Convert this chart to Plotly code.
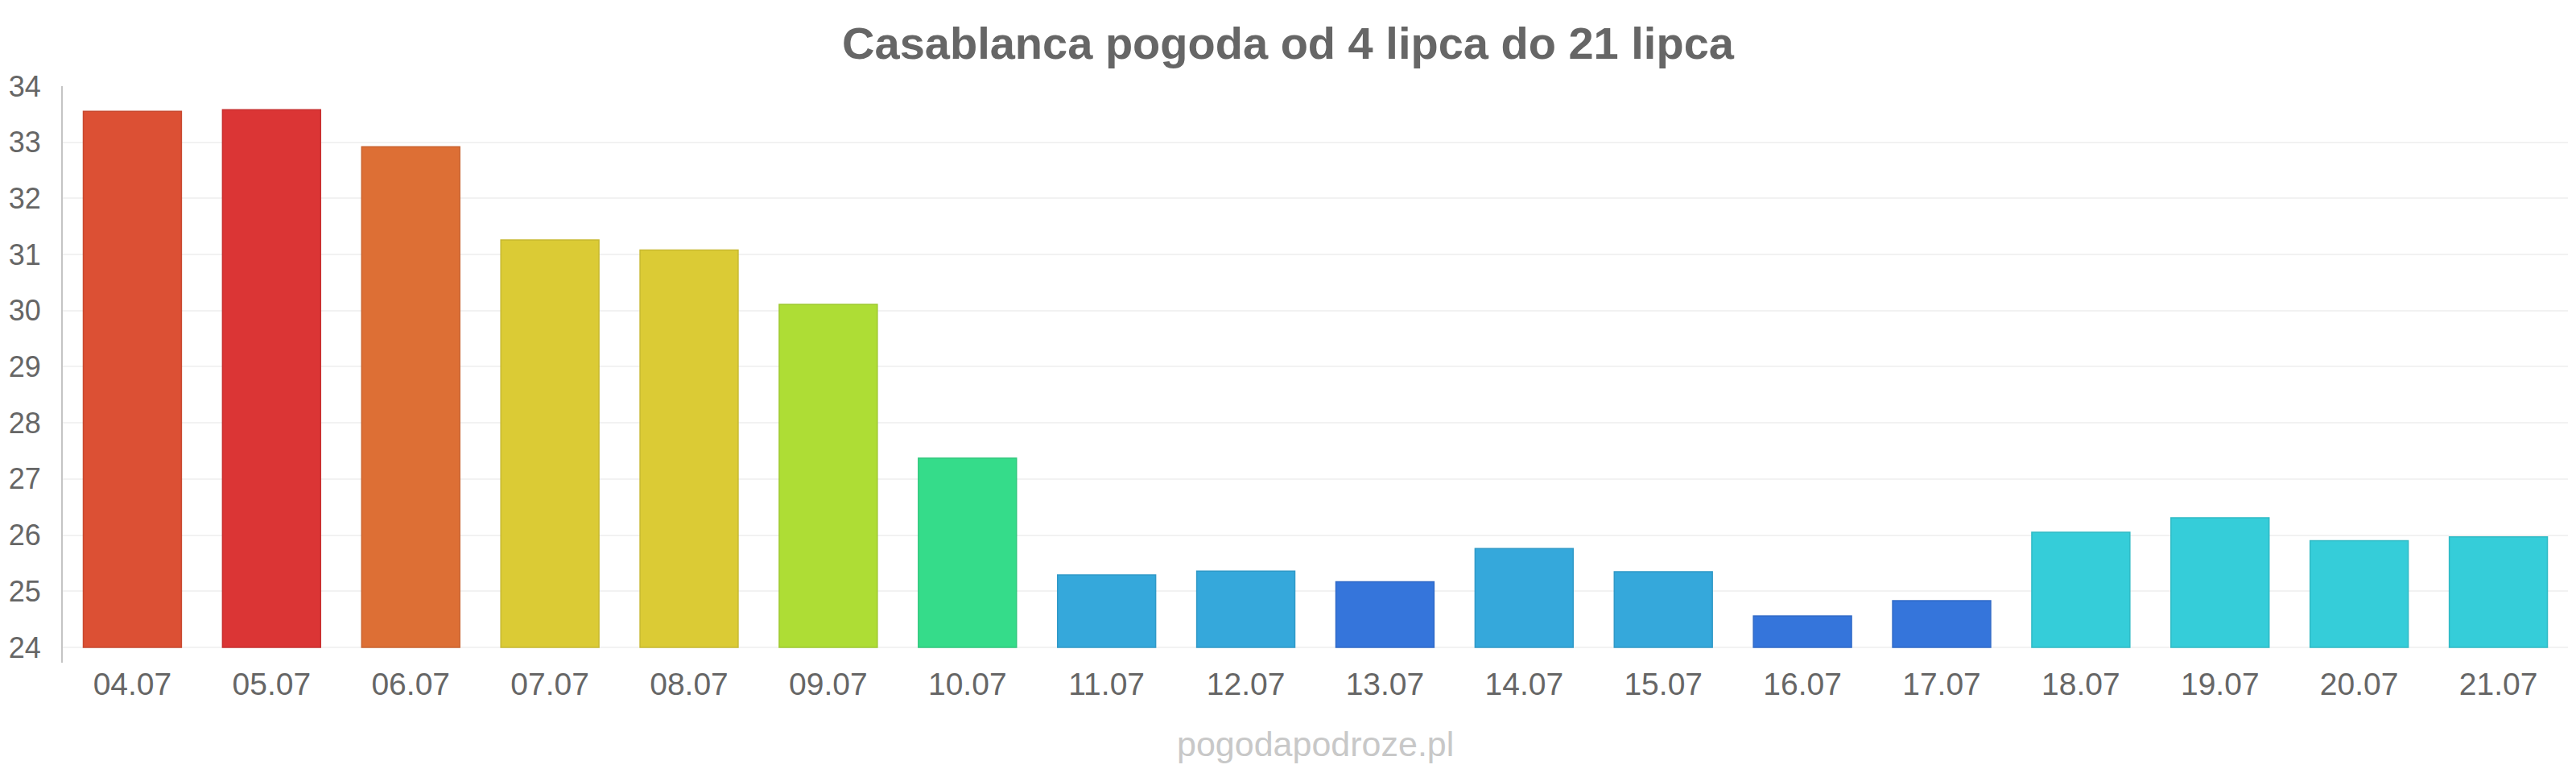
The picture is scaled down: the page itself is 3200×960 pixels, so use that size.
import plotly.graph_objects as go

dates = ["04.07", "05.07", "06.07", "07.07", "08.07", "09.07", "10.07", "11.07", "12.07",
         "13.07", "14.07", "15.07", "16.07", "17.07", "18.07", "19.07", "20.07", "21.07"]
temps = [33.55, 33.58, 32.92, 31.26, 31.08, 30.11, 27.37, 25.29, 25.36,
         25.17, 25.76, 25.35, 24.56, 24.83, 26.05, 26.31, 25.90, 25.97]
colors = ["#dc5034", "#db3535", "#dd6f35", "#dbcb35", "#dbcb35", "#aedd35", "#35dc8a", "#35a8db", "#35a8db",
          "#3575db", "#35a8db", "#35a8db", "#3575db", "#3575db", "#35cdd9", "#35cdd9", "#35cdd9", "#35cdd9"]
edge = ["#c8482f", "#c73030", "#c96430", "#c7b930", "#c7b930", "#9ec930", "#30c87d", "#3099c7",
        "#3099c7", "#306ac7", "#3099c7", "#3099c7", "#306ac7", "#306ac7", "#30bac5", "#30bac5",
        "#30bac5", "#30bac5"]
base_value = 24
y_ticks = list(range(24, 35))

fig = go.Figure(go.Bar(
    x=dates,
    y=[t - base_value for t in temps],
    base=base_value,
    marker=dict(color=colors, line=dict(color=edge, width=1.5)),
    width=0.705,
    customdata=temps,
    hovertemplate="%{x}: %{customdata}<extra></extra>",
))

fig.update_layout(
    width=3200, height=960,
    margin=dict(l=78, r=10, t=107, b=137),
    paper_bgcolor="white", plot_bgcolor="white",
    showlegend=False,
    title=dict(text="<b>Casablanca pogoda od 4 lipca do 21 lipca</b>", x=0.5, xanchor="center",
               y=1 - 53 / 960, yanchor="middle",
               font=dict(family="Liberation Sans, Arial, sans-serif", size=56, color="#666666")),
    font=dict(family="Liberation Sans, Arial, sans-serif", color="#666666"),
    xaxis=dict(showgrid=False, showline=False, zeroline=False, ticks="",
               tickfont=dict(size=39, color="#666666"), ticklabelstandoff=0),
    yaxis=dict(range=[23.727, 34], tickvals=y_ticks, showgrid=True, gridcolor="#f2f2f2", gridwidth=1.5,
               zeroline=False, showline=True, linecolor="#c4c4c4", linewidth=2, ticks="",
               tickfont=dict(size=36, color="#666666"), ticklabelstandoff=18),
    annotations=[dict(text="pogodapodroze.pl", x=0.5, xref="paper", y=0, yref="paper",
                      showarrow=False, font=dict(size=43, color="#c8c8c8"))],
)
fig.layout.annotations[0].update(y=-(924 - 823) / (823 - 107), yanchor="middle")

fig.write_html("out.html")
